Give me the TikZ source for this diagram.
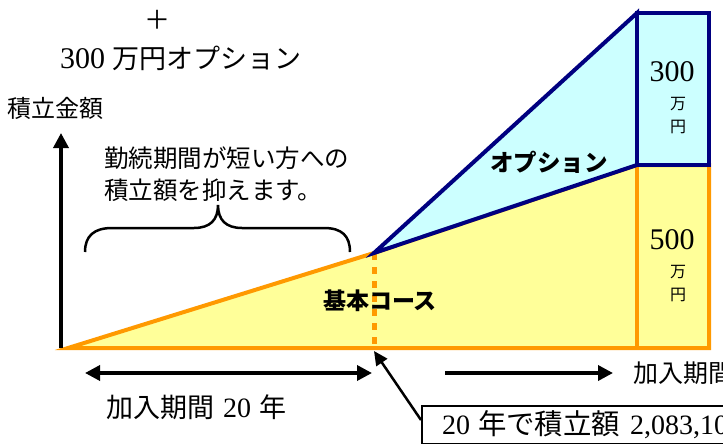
\documentclass[tikz,border=0pt]{standalone}
\usepackage{fontspec}
\newfontfamily\cjk{Noto Sans CJK JP}
\newfontfamily\digf{Liberation Serif}
\usetikzlibrary{arrows.meta}
\definecolor{orng}{HTML}{FF9900}
\definecolor{ylw}{HTML}{FFFF99}
\definecolor{navyc}{HTML}{000080}
\definecolor{cyn}{HTML}{CCFFFF}
\newcommand{\jat}[2]{{\cjk\fontsize{#1}{#1}\selectfont #2}}
\newcommand{\dat}[2]{{\digf\fontsize{#1}{#1}\selectfont #2}}
\begin{document}
\begin{tikzpicture}[x=1pt,y=-1pt,
  basefill/.style={fill=ylw,draw=orng,line width=4pt,line join=miter},
  optfill/.style={fill=cyn,draw=navyc,line width=4pt,line join=miter},
  arr/.style={line width=3.5pt,-{Triangle[length=15pt,width=15pt]}},
  darr/.style={line width=3.5pt,{Triangle[length=15pt,width=15pt]}-{Triangle[length=15pt,width=15pt]}},
  lbl/.style={inner sep=0pt},
  callout/.style={draw,line width=2pt,inner xsep=20pt,inner ysep=0pt,minimum height=38pt,text width=330pt,align=left}]
\useasboundingbox (0,0) rectangle (723,444);
\clip (0,0) rectangle (723,444);
% base course
\coordinate (b0) at (68,348);
\coordinate (b1) at (374,253);
\coordinate (b2) at (637,165);
\coordinate (b3) at (709,165);
\coordinate (b4) at (709,348);
\coordinate (b5) at (637,348);
\coordinate (b6) at (374,348);
\draw[basefill] (b0) -- (b1) -- (b2) -- (b3) -- (b4) -- cycle;
\draw[orng,line width=4pt] (b2) -- (b5);
\draw[orng,line width=5pt,dash pattern=on 7pt off 7pt] (b1) -- (b6);
% option
\coordinate (o1) at (637,13);
\coordinate (o2) at (709,13);
\draw[optfill] (b1) -- (o1) -- (b2) -- cycle;
\draw[optfill] (o1) -- (o2) -- (b3) -- (b2) -- cycle;
% box labels
\node[lbl] (n300) at (672,72) {\dat{30}{300}};
\node[lbl] (m1) at (678,104) {\jat{16}{万}};
\node[lbl] (e1) at (678,127) {\jat{16}{円}};
\node[lbl] (n500) at (672,240) {\dat{30}{500}};
\node[lbl] (m2) at (678,272) {\jat{16}{万}};
\node[lbl] (e2) at (678,295) {\jat{16}{円}};
\node[lbl] (opt) at (549,162) {\jat{23.5}{\bfseries オプション}};
\node[lbl] (kihon) at (380,301) {\jat{23}{\bfseries 基本コース}};
% top texts
\node[lbl] (plus) at (157,20) {\jat{26}{＋}};
\node[lbl,anchor=west] (top) at (60,58) {\dat{30}{300}\hspace{7pt}\jat{27}{万円オプション}};
\node[lbl,anchor=west] (ylab) at (7,108) {\jat{24}{積立金額}};
\node[lbl,anchor=west] (note1) at (104,158) {\jat{24.5}{勤続期間が短い方への}};
\node[lbl,anchor=west] (note2) at (104,190) {\jat{24.5}{積立額を抑えます。}};
% brace
\draw[line width=2.5pt] (85,252) .. controls (85,236) and (94,228) .. (112,228) -- (194,228)
  .. controls (210,228) and (218,220) .. (218,205)
  .. controls (218,220) and (226,228) .. (242,228) -- (324,228)
  .. controls (342,228) and (350,236) .. (350,252);
% y axis
\coordinate (yb) at (61,348);
\coordinate (yt) at (61,133);
\draw[arr] (yb) -- (yt);
% period arrows
\coordinate (d1) at (85,373);
\coordinate (d2) at (372,373);
\draw[darr] (d1) -- (d2);
\node[lbl,anchor=west] (per) at (106,407) {\jat{27}{加入期間}\hspace{9pt}\dat{28}{20}\hspace{8pt}\jat{27}{年}};
\coordinate (r1) at (445,373);
\coordinate (r2) at (613,373);
\draw[arr] (r1) -- (r2);
\node[lbl,anchor=west] (per2) at (633,373) {\jat{25}{加入期間}};
% callout
\node[callout,anchor=north west] (box) at (421,405) {\dat{28}{20}\hspace{8pt}\jat{28.4}{年で積立額}\hspace{10pt}\dat{28}{2,083,10}};
\coordinate (tip) at (374,351);
\draw[line width=2.5pt,-{Triangle[length=14pt,width=13pt]}] ([yshift=-15pt]box.north west) -- (tip);
\end{tikzpicture}
\end{document}
